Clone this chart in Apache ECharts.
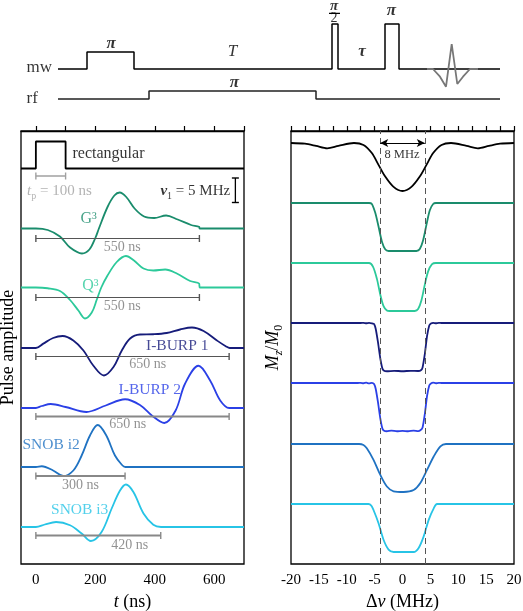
<!DOCTYPE html>
<html><head><meta charset="utf-8">
<script src="https://cdn.jsdelivr.net/npm/echarts@6/dist/echarts.min.js"></script>
<style>html,body{margin:0;padding:0;background:#fff}#c{width:523px;height:611px}</style>
</head><body><div id="c"></div><script>
const FONT = '"Liberation Serif","Times New Roman",serif';

// ---------- pulse sequence (arbitrary time units, amplitude units) ----------
const mwTime = [0, 29, 29, 76, 76, 274, 274, 280, 280, 327, 327, 341, 341, 442];
const mwAmp  = [0, 0, 17, 17, 0, 0, 45, 45, 0, 0, 45, 45, 0, 0];
const rfTime = [0, 91, 91, 258, 258, 442];
const rfAmp  = [0, 0, 8, 8, 0, 0];
const echoTime = [369, 375, 382, 388, 393.7, 399.3, 405, 412, 420];
const echoAmp  = [0, 0, -7.7, -17.7, 25, -15, -7.7, 0, 0];

// ---------- pulse shapes: t (ns), amplitude (MHz) ----------
const pulseNames   = ['rectangular', 'G³', 'Q³', 'I-BURP 1', 'I-BURP 2', 'SNOB i2', 'SNOB i3'];
const pulseLengths = [100, 550, 550, 650, 650, 300, 420];
const rectT = [-50, 0, 0, 100, 100, 700];
const rectA = [0, 0, 5.4, 5.4, 0, 0];
const g3T = [-50, 0, 40, 81, 115, 155, 180, 200, 212, 241, 264, 282, 304, 332, 364, 398, 438, 477, 522, 549, 551, 700];
const g3A = [0, 0, -0.3, -1.6, -3.8, -5.0, -4.2, -1.9, 0, 4.3, 6.6, 7.2, 6.3, 4.0, 2.4, 2.1, 2.6, 1.8, 0.7, 0.35, 0, 0];
const q3T = [-50, 0, 40, 81, 115, 143, 165, 188, 205, 220, 240, 272, 303, 330, 362, 395, 435, 474, 519, 549, 551, 700];
const q3A = [0, 0, -0.15, -0.7, -2.5, -4.6, -6.2, -5.0, -2.4, 0, 2.3, 5.1, 6.3, 5.4, 3.8, 3.4, 3.6, 2.8, 1.3, 0.8, 0, 0];
const ib1T = [-50, 0, 25, 58, 90, 126, 160, 193, 229, 261, 289, 317, 350, 395, 440, 485, 525, 564, 609, 640, 652, 700];
const ib1A = [0, 0, 0.87, 2.0, 2.4, 1.5, -0.5, -3.5, -5.5, -3.8, -0.5, 1.9, 2.7, 2.75, 3.0, 3.7, 4.1, 3.4, 1.5, 0.3, 0, 0];
const ib2T = [-50, 0, 20, 50, 100, 170, 235, 300, 350, 392, 432, 470, 502, 547, 586, 620, 650, 700];
const ib2A = [0, 0, 0.4, 0.8, 0.2, -0.8, 0.5, 1.75, 0.6, -1.6, -3.0, -0.5, 4.9, 8.45, 5.5, 1.5, 0, 0];
const sn2T = [-50, 0, 20, 58, 92, 126, 154, 182, 208, 236, 266, 289, 301, 700];
const sn2A = [0, 0, 0.15, -0.7, -1.8, -0.7, 2.3, 6.3, 8.4, 6.4, 2.3, 0.45, 0, 0];
const sn3T = [-50, 0, 30, 68, 115, 154, 185, 221, 255, 283, 303, 328, 362, 395, 421, 700];
const sn3A = [0, 0, 0.5, 1.0, 0.35, -1.3, -2.8, -1.0, 3.7, 7.3, 8.5, 7.0, 2.7, 0.45, 0, 0];

// ---------- inversion profiles: Δν (MHz), Mz/M0 ----------
const rectF = [-20, -17.5, -15.5, -13.5, -11.5, -8.7, -7, -5.5, -4.3, -3.1, -1.6, 0, 1.6, 3.1, 4.3, 5.5, 7, 8.7, 11.5, 13.5, 15.5, 17.5, 20];
const rectM = [1.0, 0.97, 0.88, 0.78, 0.88, 1.0, 0.92, 0.58, 0.09, -0.4, -0.83, -1.0, -0.83, -0.4, 0.09, 0.58, 0.92, 1.0, 0.88, 0.78, 0.88, 0.97, 1.0];
const g3F = [-20, -6.0, -5.5, -4.9, -4.3, -3.7, -3.1, -2.5, 2.5, 3.1, 3.7, 4.3, 4.9, 5.5, 6.0, 20];
const g3M = [1, 1, 0.96, 0.6, 0.02, -0.6, -0.93, -1, -1, -0.92, -0.55, 0.1, 0.7, 0.96, 1, 1];
const q3F = [-20, -6.0, -5.3, -4.6, -4.0, -3.4, -2.8, -2.3, 2.2, 2.8, 3.4, 4.0, 4.6, 5.3, 6.0, 20];
const q3M = [1, 1, 0.85, 0.35, -0.3, -0.8, -0.98, -1, -1, -0.92, -0.55, 0.1, 0.65, 0.95, 1, 1];
const ib1F = [-20, -7.5, -7, -6.5, -6, -5.5, -5.1, -4.8, -4.4, -4.0, -3.6, -3.3, -2.8, -1.5, 0, 1.5, 2.8, 3.3, 3.6, 4.0, 4.4, 4.8, 5.1, 5.5, 6, 6.5, 7, 20];
const ib1M = [1, 1, 1.01, 0.99, 1.01, 0.99, 0.96, 0.75, 0.2, -0.45, -0.9, -0.99, -1.01, -0.99, -1.01, -0.99, -1.0, -0.97, -0.85, -0.3, 0.45, 0.9, 0.98, 1.01, 0.99, 1.01, 1, 1];
const ib2F = [-20, -8, -7.5, -7, -6.5, -6, -5.5, -5.1, -4.8, -4.4, -4.0, -3.6, -3.3, -2.8, -2, -1, 0, 1, 2, 2.8, 3.2, 3.6, 4.0, 4.4, 4.8, 5.1, 5.5, 6, 6.5, 7, 20];
const ib2M = [1, 1, 1.01, 0.99, 1.015, 0.985, 1.01, 0.96, 0.75, 0.2, -0.45, -0.9, -0.99, -1.01, -0.98, -1.01, -0.99, -1.01, -0.98, -1.0, -0.97, -0.85, -0.3, 0.45, 0.9, 0.98, 1.015, 0.99, 1.01, 1.0, 1];
const sn2F = [-20, -7.8, -7.0, -6.4, -5.2, -4.0, -2.8, -1.6, 0.2, 2.0, 3.2, 4.4, 5.6, 6.8, 7.8, 20];
const sn2M = [1, 1, 0.96, 0.82, 0.34, -0.28, -0.77, -0.97, -1.0, -0.92, -0.63, -0.08, 0.48, 0.9, 1.0, 1];
const sn3F = [-20, -6.1, -5.6, -5.2, -4.3, -3.4, -2.5, -1.6, 2.0, 2.9, 3.8, 4.7, 5.6, 6.2, 20];
const sn3M = [1, 1, 0.93, 0.75, 0.2, -0.49, -0.9, -1.0, -1.0, -0.83, -0.35, 0.34, 0.82, 1.0, 1];
const bandEdges = [-4, 4];

// ---------- axis ticks ----------
const tTicks  = [0, 100, 200, 300, 400, 500, 600, 700];
const tLabels = [0, 200, 400, 600];
const fTicks  = [-20, -17.5, -15, -12.5, -10, -7.5, -5, -2.5, 0, 2.5, 5, 7.5, 10, 12.5, 15, 17.5, 20];
const fLabels = [-20, -15, -10, -5, 0, 5, 10, 15, 20];

// ---------- layout / style (not data) ----------
const colors = ['#000000', '#1a8c6c', '#2cc99a', '#161c7a', '#2b40e6', '#1f72c2', '#27c4e6'];
const shapeOffsets = [-7.5, -19.5, -31.3, -43.4, -55.4, -67.2, -79.2];
const bracketY = [-9.0, -21.5, -33.3, -45.1, -57.1, -69.0, -80.9];
const bracketColor = ['#a0a0a0', '#555', '#555', '#555', '#888', '#888', '#888'];
const bracketWidth = [1.5, 1.2, 1.2, 1.2, 1.8, 1.8, 1.8];
const profOffsets = [-0.5, -3.0, -5.5, -8.0, -10.5, -13.04, -15.54];
const profSmooth = [0.3, 0.3, 0.3, 0.15, 0.15, 0.3, 0.3];

const shapes = [[rectT, rectA], [g3T, g3A], [q3T, q3A], [ib1T, ib1A], [ib2T, ib2A], [sn2T, sn2A], [sn3T, sn3A]];
const profiles = [[rectF, rectM], [g3F, g3M], [q3F, q3M], [ib1F, ib1M], [ib2F, ib2M], [sn2F, sn2M], [sn3F, sn3M]];

const pairs = (xs, ys, off) => xs.map((x, i) => [x, ys[i] + (off || 0)]);

function labels(xi, yi, items) {
  return {
    type: 'scatter', xAxisIndex: xi, yAxisIndex: yi, symbolSize: 1, silent: true, z: 10,
    itemStyle: { color: 'rgba(0,0,0,0)' }, clip: false,
    data: items.map(it => ({
      value: [it.x, it.y],
      label: {
        show: true, position: [0, 0], align: it.align || 'center', verticalAlign: 'middle',
        formatter: it.text, color: it.color || '#000', fontFamily: FONT, fontSize: it.size || 15,
        fontStyle: it.style || 'normal', fontWeight: it.weight || 'normal', rich: it.rich || {},
        backgroundColor: it.bg || 'transparent', padding: it.pad || 0
      }
    }))
  };
}

const series = [];
// sequence
series.push({ type: 'line', xAxisIndex: 0, yAxisIndex: 0, data: pairs(mwTime, mwAmp), symbol: 'none', lineStyle: { color: '#000', width: 1.5 } });
series.push({ type: 'line', xAxisIndex: 0, yAxisIndex: 0, data: pairs(rfTime, rfAmp, -30), symbol: 'none', lineStyle: { color: '#222', width: 1.5 } });
series.push({ type: 'line', xAxisIndex: 0, yAxisIndex: 0, data: pairs(echoTime, echoAmp), symbol: 'none', lineStyle: { color: '#777', width: 1.8 }, z: 3 });
series.push({ type: 'line', xAxisIndex: 0, yAxisIndex: 0, data: [[271, 55.7], [282, 55.7]], symbol: 'none', lineStyle: { color: '#000', width: 1.2 } });
const piStyle = { style: 'italic', weight: 'bold', size: 17 };
series.push(labels(0, 0, [
  { x: -31, y: 1, text: 'mw', align: 'left', size: 17 },
  { x: -31, y: -30, text: 'rf', align: 'left', size: 17 },
  Object.assign({ x: 53.7, y: 25, text: 'π' }, piStyle),
  { x: 175, y: 17.3, text: 'T', style: 'italic', size: 17 },
  Object.assign({ x: 177, y: -14, text: 'π' }, piStyle),
  Object.assign({ x: 276.5, y: 62.5, text: 'π', size: 15 }, { style: 'italic', weight: 'bold' }),
  { x: 276.5, y: 50.5, text: '2', size: 14 },
  { x: 304.5, y: 17.3, text: 'τ', style: 'italic', weight: 'bold', size: 17 },
  Object.assign({ x: 334, y: 58, text: 'π' }, piStyle)
]));

// pulse shapes
shapes.forEach((s, k) => {
  series.push({ type: 'line', xAxisIndex: 1, yAxisIndex: 1, data: pairs(s[0], s[1], shapeOffsets[k]),
    symbol: 'none', smooth: k === 0 ? false : 0.35, lineStyle: { color: colors[k], width: 1.8 } });
  series.push({ type: 'line', xAxisIndex: 1, yAxisIndex: 1, data: [[0, bracketY[k]], [pulseLengths[k], bracketY[k]]],
    symbol: 'rect', symbolSize: [1.4, 7], showSymbol: true, itemStyle: { color: bracketColor[k] },
    lineStyle: { color: bracketColor[k], width: bracketWidth[k] }, silent: true });
});
// scale bar for nu1
series.push({ type: 'line', xAxisIndex: 1, yAxisIndex: 1, data: [[671, -9.4], [671, -14.3]], symbol: 'rect',
  symbolSize: [7, 1.4], showSymbol: true, itemStyle: { color: '#000' }, lineStyle: { color: '#000', width: 1.3 } });

const subRich = (c) => ({
  i: { fontStyle: 'italic', fontFamily: FONT, fontSize: 15, color: c, lineHeight: 20 },
  bi: { fontStyle: 'italic', fontWeight: 'bold', fontFamily: FONT, fontSize: 15, color: c, lineHeight: 20 },
  s: { fontFamily: FONT, fontSize: 10, color: c, verticalAlign: 'bottom', lineHeight: 11 },
  n: { fontFamily: FONT, fontSize: 15, color: c, lineHeight: 20 }
});
series.push(labels(1, 1, [
  { x: 125, y: -4.6, text: pulseNames[0], align: 'left', size: 16, color: colors[0] },
  { x: 81, y: -12.1, text: '{i|t}{s|p}{n| = 100 ns}', color: '#a0a0a0', rich: subRich('#a0a0a0') },
  { x: 655, y: -12.1, text: '{bi|ν}{s|1}{n| = 5 MHz}', align: 'right', rich: subRich('#000') },
  { x: 179, y: -17.7, text: pulseNames[1], size: 16, color: colors[1] },
  { x: 185, y: -31.0, text: pulseNames[2], size: 16, color: colors[2] },
  { x: 477, y: -43.0, text: pulseNames[3], size: 15.5, color: colors[3] },
  { x: 385, y: -51.8, text: pulseNames[4], size: 15.5, color: colors[4] },
  { x: 53, y: -62.9, text: pulseNames[5], size: 15.5, color: colors[5] },
  { x: 149, y: -75.8, text: pulseNames[6], size: 15.5, color: colors[6] },
  { x: 292, y: -23.3, text: pulseLengths[1] + ' ns', color: '#777', size: 14 },
  { x: 292, y: -35.1, text: pulseLengths[2] + ' ns', color: '#777', size: 14 },
  { x: 378, y: -46.8, text: pulseLengths[3] + ' ns', color: '#777', size: 14 },
  { x: 311, y: -58.8, text: pulseLengths[4] + ' ns', color: '#777', size: 14 },
  { x: 152, y: -70.9, text: pulseLengths[5] + ' ns', color: '#777', size: 14 },
  { x: 317, y: -82.9, text: pulseLengths[6] + ' ns', color: '#777', size: 14 }
]));

// profiles
profiles.forEach((p, k) => {
  const s = { type: 'line', xAxisIndex: 2, yAxisIndex: 2, data: p[0].map((f, i) => [f, profOffsets[k] + p[1][i] - 1]),
    symbol: 'none', smooth: profSmooth[k], lineStyle: { color: colors[k], width: 1.8 } };
  if (k === 0) {
    s.markLine = { silent: true, symbol: 'none', label: { show: false },
      lineStyle: { type: [6, 4], color: '#555', width: 1 },
      data: bandEdges.map(v => ({ xAxis: v })) };
  }
  series.push(s);
});
series.push({ type: 'line', xAxisIndex: 2, yAxisIndex: 2, data: [], markLine: {
  silent: true, symbol: ['arrow', 'arrow'], symbolSize: [6, 8], label: { show: false },
  lineStyle: { type: 'solid', color: '#000', width: 1.2 },
  data: [[{ coord: [bandEdges[0], -0.5] }, { coord: [bandEdges[1], -0.5] }]] } });
series.push(labels(2, 2, [
  { x: 0, y: -1.0, text: (bandEdges[1] - bandEdges[0]) + ' MHz', size: 12.5, bg: '#fff', pad: [0, 2, 0, 2] }
]));

const option = {
  animation: false,
  grid: [
    { left: 0, top: 0, width: 500, height: 110, outerBoundsMode: 'none' },
    { left: 21, top: 131, width: 223, height: 433, show: true, borderColor: '#000', borderWidth: 1.3, outerBoundsMode: 'none' },
    { left: 291, top: 131, width: 223, height: 433, show: true, borderColor: '#000', borderWidth: 1.3, outerBoundsMode: 'none' }
  ],
  xAxis: [
    { gridIndex: 0, type: 'value', min: -58, max: 442, show: false },
    { gridIndex: 1, type: 'value', min: -50, max: 700,
      axisLine: { lineStyle: { color: '#000', width: 1.3 } },
      axisTick: { inside: true, length: 5, customValues: tTicks, lineStyle: { color: '#000', width: 1.2 } },
      axisLabel: { customValues: tLabels, fontFamily: FONT, fontSize: 15, color: '#000', margin: 9 },
      splitLine: { show: false },
      name: '{i|t} (ns)', nameLocation: 'middle', nameGap: 27,
      nameTextStyle: { fontFamily: FONT, fontSize: 18, color: '#000', rich: { i: { fontStyle: 'italic', fontFamily: FONT, fontSize: 18, color: '#000' } } } },
    { gridIndex: 2, type: 'value', min: -20, max: 20,
      axisLine: { lineStyle: { color: '#000', width: 1.3 } },
      axisTick: { inside: true, length: 5, customValues: fTicks, lineStyle: { color: '#000', width: 1.2 } },
      axisLabel: { customValues: fLabels, fontFamily: FONT, fontSize: 15, color: '#000', margin: 9 },
      splitLine: { show: false },
      name: 'Δ{i|ν} (MHz)', nameLocation: 'middle', nameGap: 27,
      nameTextStyle: { fontFamily: FONT, fontSize: 18, color: '#000', rich: { i: { fontStyle: 'italic', fontFamily: FONT, fontSize: 18, color: '#000' } } } }
  ],
  yAxis: [
    { gridIndex: 0, type: 'value', min: -41, max: 69, show: false },
    { gridIndex: 1, type: 'value', min: -86.6, max: 0, axisLine: { show: false }, axisTick: { show: false },
      axisLabel: { show: false }, splitLine: { show: false },
      name: 'Pulse amplitude', nameLocation: 'middle', nameGap: 4,
      nameTextStyle: { fontFamily: FONT, fontSize: 18, color: '#000' } },
    { gridIndex: 2, type: 'value', min: -18.04, max: 0, axisLine: { show: false }, axisTick: { show: false },
      axisLabel: { show: false }, splitLine: { show: false },
      name: '{i|M}{si|z}{n|/}{i|M}{s|0}', nameLocation: 'middle', nameGap: 6,
      nameTextStyle: { fontFamily: FONT, fontSize: 18, color: '#000', rich: {
        i: { fontStyle: 'italic', fontFamily: FONT, fontSize: 18, color: '#000', lineHeight: 24 },
        n: { fontFamily: FONT, fontSize: 18, color: '#000', lineHeight: 24 },
        si: { fontStyle: 'italic', fontFamily: FONT, fontSize: 12, color: '#000', verticalAlign: 'bottom', lineHeight: 13 },
        s: { fontFamily: FONT, fontSize: 12, color: '#000', verticalAlign: 'bottom', lineHeight: 13 } } } }
  ],
  series: series
};
const chart = echarts.init(document.getElementById('c'));
chart.setOption(option);
</script></body></html>
